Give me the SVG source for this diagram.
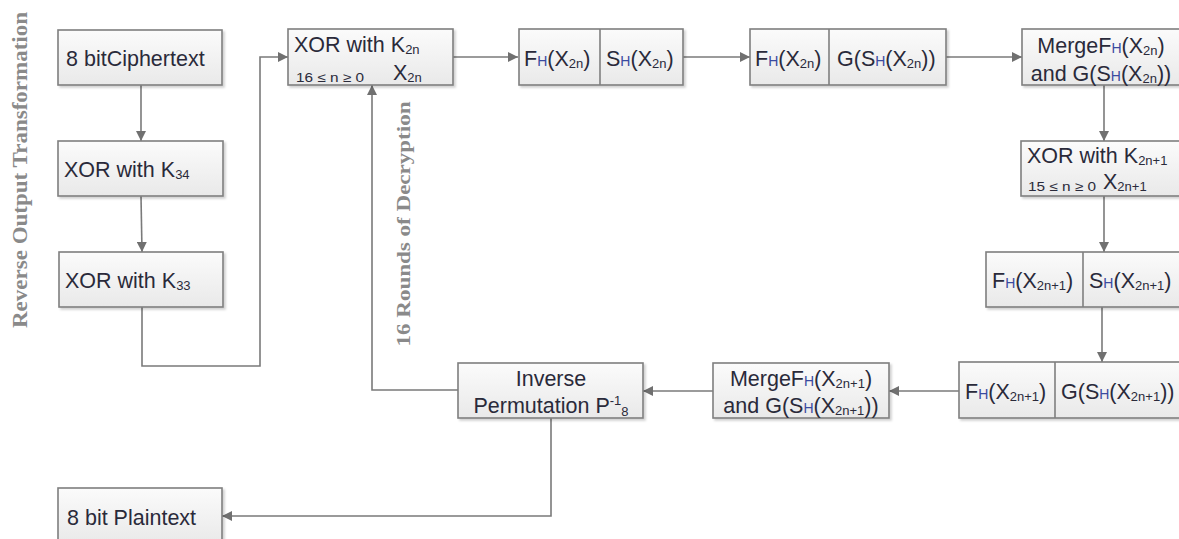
<svg xmlns="http://www.w3.org/2000/svg" width="1179" height="539" viewBox="0 0 1179 539">
<defs>
<linearGradient id="bg" x1="0" y1="0" x2="0" y2="1">
<stop offset="0" stop-color="#fbfbfb"/>
<stop offset="1" stop-color="#e9e9e9"/>
</linearGradient>
<filter id="sh" x="-5%" y="-10%" width="115%" height="130%">
<feDropShadow dx="2" dy="2" stdDeviation="1.2" flood-color="#000" flood-opacity="0.18"/>
</filter>
<marker id="ah" viewBox="0 0 10 10" refX="10" refY="5" markerWidth="10" markerHeight="10" markerUnits="userSpaceOnUse" orient="auto">
<path d="M0,0 L10,5 L0,10 z" fill="#707070"/>
</marker>
<style>
.box{fill:url(#bg);stroke:#7f7f7f;stroke-width:1.6;filter:url(#sh)}
.div{stroke:#7f7f7f;stroke-width:1.6}
.t{font-family:"Liberation Sans",Arial,sans-serif;font-size:21.5px;fill:#2a2a3a}
.s{font-size:13px}
.h{font-size:14px}
.tiny{font-family:"Liberation Sans",Arial,sans-serif;font-size:13px;fill:#2a2a3a}
.c{text-anchor:middle}
.con{fill:none;stroke:#7a7a7a;stroke-width:1.6}
.lab{font-family:"Liberation Serif","Times New Roman",serif;font-weight:bold;fill:#8a8a8a}
</style>
</defs>

<text class="lab" font-size="20" transform="translate(27,170) rotate(-90)" text-anchor="middle" textLength="316" lengthAdjust="spacingAndGlyphs">Reverse Output Transformation</text>
<text class="lab" font-size="19" fill="#7a7a7a" transform="translate(410,224) rotate(-90)" text-anchor="middle" textLength="245" lengthAdjust="spacingAndGlyphs">16 Rounds of Decryption</text>

<g id="connectors">
<line class="con" x1="141" y1="85" x2="141" y2="141" marker-end="url(#ah)"/>
<line class="con" x1="141" y1="196" x2="142" y2="252" marker-end="url(#ah)"/>
<path class="con" d="M142,307 V366 H260 V57 H288" marker-end="url(#ah)"/>
<line class="con" x1="453" y1="57" x2="518" y2="57" marker-end="url(#ah)"/>
<line class="con" x1="683" y1="57" x2="750" y2="57" marker-end="url(#ah)"/>
<line class="con" x1="946" y1="57" x2="1022" y2="57" marker-end="url(#ah)"/>
<line class="con" x1="1104" y1="85" x2="1104" y2="141" marker-end="url(#ah)"/>
<line class="con" x1="1104" y1="196" x2="1104" y2="252" marker-end="url(#ah)"/>
<line class="con" x1="1102" y1="307" x2="1102" y2="362" marker-end="url(#ah)"/>
<line class="con" x1="959" y1="391" x2="889" y2="391" marker-end="url(#ah)"/>
<line class="con" x1="713" y1="391" x2="643" y2="391" marker-end="url(#ah)"/>
<path class="con" d="M458,390 H372 V85" marker-end="url(#ah)"/>
<path class="con" d="M551,418 V516 H222" marker-end="url(#ah)"/>
</g>

<g id="n-ciphertext">
<rect class="box" x="58" y="30" width="164" height="55"/>
<text class="t" x="66" y="66">8 bitCiphertext</text>
</g>

<g id="n-xor34">
<rect class="box" x="58" y="141" width="165" height="55"/>
<text class="t" x="64" y="177">XOR with K<tspan class="s" dy="2">34</tspan></text>
</g>

<g id="n-xor33">
<rect class="box" x="59" y="252" width="164" height="55"/>
<text class="t" x="65" y="288">XOR with K<tspan class="s" dy="2">33</tspan></text>
</g>

<g id="n-plaintext">
<rect class="box" x="58" y="488" width="164" height="56"/>
<text class="t" x="67" y="525">8 bit Plaintext</text>
</g>

<g id="n-xor2n">
<rect class="box" x="288" y="29" width="165" height="56"/>
<text class="t" x="294" y="52">XOR with K<tspan class="s" dy="2">2n</tspan></text>
<text class="tiny" x="296" y="82" textLength="68" lengthAdjust="spacingAndGlyphs">16 ≤ n ≥ 0</text>
<text class="t" x="393" y="80">X<tspan class="s" dy="2">2n</tspan></text>
</g>

<g id="n-fs1">
<rect class="box" x="519" y="29" width="164" height="56"/>
<line class="div" x1="600" y1="29" x2="600" y2="85"/>
<text class="t" x="524" y="66">F<tspan class="h" fill="#3a4aa0">H</tspan>(X<tspan class="s" dy="2">2n</tspan><tspan dy="-2">)</tspan></text>
<text class="t" x="606" y="66">S<tspan class="h" fill="#3a4aa0">H</tspan>(X<tspan class="s" dy="2">2n</tspan><tspan dy="-2">)</tspan></text>
</g>

<g id="n-fg1">
<rect class="box" x="750" y="29" width="196" height="56"/>
<line class="div" x1="829" y1="29" x2="829" y2="85"/>
<text class="t" x="755" y="66">F<tspan class="h" fill="#3a4aa0">H</tspan>(X<tspan class="s" dy="2">2n</tspan><tspan dy="-2">)</tspan></text>
<text class="t" x="837" y="66">G(S<tspan class="h" fill="#3a4aa0">H</tspan>(X<tspan class="s" dy="2">2n</tspan><tspan dy="-2">))</tspan></text>
</g>

<g id="n-merge1">
<rect class="box" x="1022" y="29" width="162" height="56"/>
<text class="t c" x="1101" y="53">MergeF<tspan class="h" fill="#3a4aa0">H</tspan>(X<tspan class="s" dy="2">2n</tspan><tspan dy="-2">)</tspan></text>
<text class="t c" x="1101" y="81">and G(S<tspan class="h" fill="#3a4aa0">H</tspan>(X<tspan class="s" dy="2">2n</tspan><tspan dy="-2">))</tspan></text>
</g>

<g id="n-xor2n1">
<rect class="box" x="1021" y="141" width="165" height="55"/>
<text class="t" x="1027" y="163">XOR with K<tspan class="s" dy="2">2n+1</tspan></text>
<text class="tiny" x="1028" y="191" textLength="68" lengthAdjust="spacingAndGlyphs">15 ≤ n ≥ 0</text>
<text class="t" x="1103" y="189">X<tspan class="s" dy="2">2n+1</tspan></text>
</g>

<g id="n-fs2">
<rect class="box" x="986" y="252" width="200" height="55"/>
<line class="div" x1="1083" y1="252" x2="1083" y2="307"/>
<text class="t" x="992" y="288">F<tspan class="h" fill="#3a4aa0">H</tspan>(X<tspan class="s" dy="2">2n+1</tspan><tspan dy="-2">)</tspan></text>
<text class="t" x="1089" y="288">S<tspan class="h" fill="#3a4aa0">H</tspan>(X<tspan class="s" dy="2">2n+1</tspan><tspan dy="-2">)</tspan></text>
</g>

<g id="n-fg2">
<rect class="box" x="959" y="362" width="227" height="56"/>
<line class="div" x1="1055" y1="362" x2="1055" y2="418"/>
<text class="t" x="965" y="399">F<tspan class="h" fill="#3a4aa0">H</tspan>(X<tspan class="s" dy="2">2n+1</tspan><tspan dy="-2">)</tspan></text>
<text class="t" x="1061" y="399">G(S<tspan class="h" fill="#3a4aa0">H</tspan>(X<tspan class="s" dy="2">2n+1</tspan><tspan dy="-2">))</tspan></text>
</g>

<g id="n-merge2">
<rect class="box" x="713" y="363" width="176" height="55"/>
<text class="t c" x="801" y="386">MergeF<tspan class="h" fill="#3a4aa0">H</tspan>(X<tspan class="s" dy="2">2n+1</tspan><tspan dy="-2">)</tspan></text>
<text class="t c" x="801" y="413">and G(S<tspan class="h" fill="#3a4aa0">H</tspan>(X<tspan class="s" dy="2">2n+1</tspan><tspan dy="-2">))</tspan></text>
</g>

<g id="n-inverse">
<rect class="box" x="458" y="363" width="185" height="55"/>
<text class="t c" x="551" y="386">Inverse</text>
<text class="t c" x="551" y="413">Permutation P<tspan class="s" dy="-8">-1</tspan><tspan class="s" dy="11">8</tspan></text>
</g>
</svg>
